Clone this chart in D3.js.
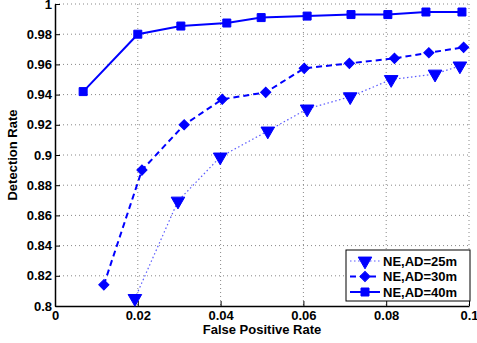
<!DOCTYPE html>
<html>
<head>
<meta charset="utf-8">
<script src="https://cdn.jsdelivr.net/npm/d3@7"></script>
<style>
  body { margin: 0; background: #fff; }
  text { font-family: "Liberation Sans", Arial, sans-serif; font-weight: bold; }
</style>
</head>
<body>
<svg id="chart"></svg>
<script>
const W = 477, H = 343;
const margin = {top: 4, right: 8, bottom: 37, left: 55};
const w = W - margin.left - margin.right;
const h = H - margin.top - margin.bottom;

// data
const xTicks = [0, 0.02, 0.04, 0.06, 0.08, 0.1];
const xTickLabels = ["0", "0.02", "0.04", "0.06", "0.08", "0.1"];
const yTicks = [0.8, 0.82, 0.84, 0.86, 0.88, 0.9, 0.92, 0.94, 0.96, 0.98, 1];
const yTickLabels = ["0.8", "0.82", "0.84", "0.86", "0.88", "0.9", "0.92", "0.94", "0.96", "0.98", "1"];

const seriesNames = ["NE,AD=25m", "NE,AD=30m", "NE,AD=40m"];

const fpr25 = [0.0193, 0.0297, 0.0399, 0.0514, 0.0609, 0.0713, 0.0812, 0.0918, 0.0978];
const det25 = [0.805, 0.8695, 0.8987, 0.9159, 0.9305, 0.9386, 0.950, 0.9536, 0.959];

const fpr30 = [0.0118, 0.021, 0.0312, 0.0404, 0.0509, 0.0602, 0.0711, 0.082, 0.0903, 0.0987];
const det30 = [0.814, 0.89, 0.92, 0.9369, 0.9415, 0.9574, 0.9607, 0.964, 0.9677, 0.9713];

const fpr40 = [0.0068, 0.02, 0.0304, 0.0415, 0.0498, 0.0609, 0.0715, 0.0804, 0.0896, 0.0983];
const det40 = [0.942, 0.98, 0.9854, 0.9874, 0.991, 0.992, 0.993, 0.993, 0.9947, 0.9947];

const series = [
  {name: seriesNames[0], xs: fpr25, ys: det25, dash: "1.5,2.5", width: 1.2, color: "#5a5aff", marker: d3.symbolTriangle, rot: 180, size: 80},
  {name: seriesNames[1], xs: fpr30, ys: det30, dash: "6,4", width: 2, color: "#0000ff", marker: d3.symbolSquare, rot: 45, size: 52},
  {name: seriesNames[2], xs: fpr40, ys: det40, dash: null, width: 2, color: "#0000ff", marker: d3.symbolSquare, rot: 0, size: 64}
];

const svg = d3.select("#chart").attr("width", W).attr("height", H);
const g = svg.append("g").attr("transform", `translate(${margin.left},${margin.top})`);

const x = d3.scaleLinear().domain([0, 0.1]).range([0, w]);
const y = d3.scaleLinear().domain([0.8, 1]).range([h, 0]);

// grid
g.append("g").selectAll("line").data(xTicks.slice(1)).enter().append("line")
  .attr("x1", d => x(d)).attr("x2", d => x(d)).attr("y1", 0).attr("y2", h)
  .attr("stroke", "#888").attr("stroke-width", 1).attr("stroke-dasharray", "1,3");
g.append("g").selectAll("line").data(yTicks.slice(1)).enter().append("line")
  .attr("x1", 0).attr("x2", w).attr("y1", d => y(d)).attr("y2", d => y(d))
  .attr("stroke", "#888").attr("stroke-width", 1).attr("stroke-dasharray", "1,3");

// axes
const xAxis = d3.axisBottom(x).tickValues(xTicks).tickFormat((d, i) => xTickLabels[i]).tickSizeInner(-5).tickSizeOuter(0).tickPadding(5);
const yAxis = d3.axisLeft(y).tickValues(yTicks).tickFormat((d, i) => yTickLabels[i]).tickSizeInner(-5).tickSizeOuter(0).tickPadding(3);

const gx = g.append("g").attr("transform", `translate(0,${h})`).call(xAxis);
const gy = g.append("g").call(yAxis);
[gx, gy].forEach(a => {
  a.selectAll("text").style("font-size", "13px").attr("fill", "#000");
  a.select(".domain").attr("stroke", "#000").attr("stroke-width", 1.5);
  a.selectAll(".tick line").attr("stroke", "#000");
});

// series
series.forEach(s => {
  const pts = s.xs.map((v, i) => [v, s.ys[i]]);
  g.append("path").datum(pts)
    .attr("fill", "none").attr("stroke", s.color).attr("stroke-width", s.width)
    .attr("stroke-dasharray", s.dash)
    .attr("d", d3.line().x(d => x(d[0])).y(d => y(d[1])));
  g.append("g").selectAll("path").data(pts).enter().append("path")
    .attr("d", d3.symbol().type(s.marker).size(s.size))
    .attr("transform", d => `translate(${x(d[0])},${y(d[1])}) rotate(${s.rot})`)
    .attr("fill", "#0000ff").attr("stroke", "#0000ff").attr("stroke-width", 1);
});

// axis titles
svg.append("text").attr("x", margin.left + w / 2).attr("y", 334)
  .attr("text-anchor", "middle").style("font-size", "13px").text("False Positive Rate");
svg.append("text").attr("transform", `translate(17,${margin.top + h / 2}) rotate(-90)`)
  .attr("text-anchor", "middle").style("font-size", "13px").text("Detection Rate");

// legend
const lg = svg.append("g").attr("transform", "translate(346,250)");
lg.append("rect").attr("width", 124).attr("height", 51)
  .attr("fill", "#fff").attr("stroke", "#000").attr("stroke-width", 1);
series.forEach((s, i) => {
  const cy = 11 + i * 15.5;
  lg.append("line").attr("x1", 4).attr("x2", 34).attr("y1", cy).attr("y2", cy)
    .attr("stroke", s.color).attr("stroke-width", s.width).attr("stroke-dasharray", s.dash);
  lg.append("path").attr("d", d3.symbol().type(s.marker).size(s.size))
    .attr("transform", `translate(19,${cy}) rotate(${s.rot})`)
    .attr("fill", "#0000ff").attr("stroke", "#0000ff");
  lg.append("text").attr("x", 37).attr("y", cy).attr("dy", "0.36em")
    .style("font-size", "13px").text(s.name);
});
</script>
</body>
</html>
